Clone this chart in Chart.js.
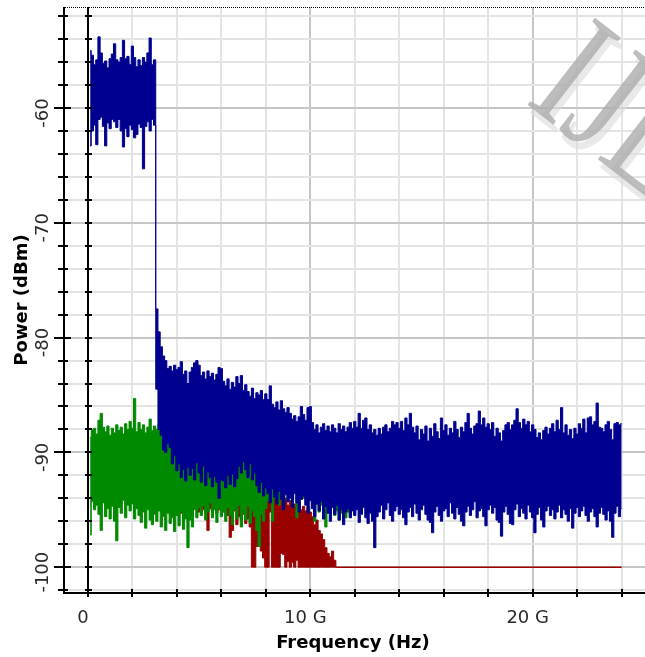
<!DOCTYPE html>
<html>
<head>
<meta charset="utf-8">
<script src="https://cdn.jsdelivr.net/npm/chart.js@4.4.0/dist/chart.umd.min.js"></script>
<style>
  html, body { margin: 0; padding: 0; background: #fff; }
  canvas { display: block; }
</style>
</head>
<body>
<canvas id="spectrum" width="645" height="657"></canvas>
<script>
// sample grid of the spectrum trace: 0.1 GHz bins from 0.1 to 24.0 GHz
const binStart = 0.1, binStep = 0.1, binCount = 240;
const freqGHz = [];
for (let i = 0; i < binCount; i++) freqGHz.push(+(binStart + i * binStep).toFixed(1));

// blue trace, upper / lower edge of the noise band per bin (dBm)
const blueUpper = [
  -55.0,-55.4,-56.2,-55.8,-53.8,-55.2,-56.1,-55.9,-56.5,-55.7,
  -55.3,-54.4,-55.8,-56.0,-55.6,-54.1,-55.7,-55.5,-56.2,-54.6,
  -55.6,-56.4,-55.8,-56.3,-55.6,-56.0,-55.2,-53.9,-56.2,-55.8,
  -77.5,-79.5,-80.8,-81.6,-82.0,-82.7,-82.5,-82.9,-82.4,-82.8,
  -82.6,-82.1,-83.2,-82.9,-84.0,-83.0,-82.6,-82.2,-82.0,-82.4,
  -83.3,-83.0,-83.6,-82.9,-83.4,-83.1,-83.7,-83.2,-82.6,-82.7,
  -83.8,-84.2,-83.6,-84.5,-83.9,-84.3,-83.4,-84.0,-83.3,-84.6,
  -84.1,-84.7,-85.1,-84.4,-85.3,-84.8,-85.0,-84.6,-85.4,-84.9,
  -85.4,-84.2,-85.8,-86.1,-85.6,-86.3,-85.5,-86.2,-86.5,-86.1,
  -86.6,-87.1,-86.8,-87.3,-86.9,-86.0,-86.7,-87.2,-86.1,-86.0,
  -87.4,-88.0,-87.6,-88.3,-87.8,-87.5,-88.1,-87.7,-88.2,-87.6,
  -87.9,-88.3,-87.5,-88.0,-87.7,-88.2,-87.8,-87.4,-87.9,-87.3,
  -87.8,-86.6,-87.9,-87.2,-87.0,-88.0,-87.6,-88.3,-88.0,-88.5,
  -87.9,-88.4,-87.8,-87.6,-88.2,-87.9,-87.3,-87.6,-87.4,-87.9,
  -87.3,-88.1,-87.0,-87.6,-86.6,-87.8,-88.3,-87.7,-88.9,-88.0,
  -88.4,-87.7,-89.0,-87.9,-88.6,-87.5,-88.2,-88.8,-87.0,-88.1,
  -87.6,-88.5,-87.9,-88.3,-87.3,-88.0,-88.7,-87.8,-88.2,-87.4,
  -86.6,-87.9,-88.4,-87.7,-87.5,-86.4,-87.6,-87.0,-87.8,-87.5,
  -88.0,-87.4,-88.6,-87.9,-88.3,-89.0,-88.1,-87.6,-87.4,-88.0,
  -87.6,-87.2,-86.2,-87.4,-87.9,-87.1,-87.6,-87.3,-88.2,-87.6,
  -88.0,-88.7,-88.3,-88.9,-88.1,-87.8,-88.4,-87.9,-87.5,-88.2,
  -87.2,-88.0,-86.1,-88.3,-87.6,-88.5,-88.0,-88.8,-87.9,-88.4,
  -87.5,-87.9,-87.1,-88.3,-87.0,-86.9,-87.6,-87.3,-85.7,-87.8,
  -87.9,-88.2,-87.6,-87.3,-88.0,-88.9,-87.5,-87.4,-87.6,-87.5
];
const blueLower = [
  -63.3,-62.0,-61.5,-63.2,-61.0,-60.8,-61.6,-63.3,-61.3,-61.8,
  -61.0,-61.2,-61.7,-61.0,-62.0,-63.4,-61.8,-62.5,-61.5,-61.9,
  -62.6,-62.3,-61.4,-61.7,-65.3,-61.6,-61.2,-62.0,-61.0,-61.5,
  -84.5,-88.0,-88.5,-89.8,-90.0,-89.2,-89.6,-91.0,-90.3,-91.6,
  -91.0,-92.2,-91.5,-92.5,-91.3,-92.0,-91.4,-92.4,-90.9,-91.8,
  -92.6,-91.2,-92.9,-91.7,-92.2,-93.0,-92.1,-92.6,-94.0,-92.4,
  -92.5,-93.1,-92.0,-92.8,-91.9,-93.0,-92.3,-91.2,-91.8,-90.8,
  -91.5,-92.2,-91.0,-92.4,-91.8,-92.9,-93.5,-92.6,-93.8,-93.1,
  -93.6,-94.4,-93.2,-93.9,-94.5,-93.4,-94.1,-95.0,-93.7,-94.3,
  -94.0,-94.8,-93.6,-94.4,-95.2,-94.1,-93.8,-94.6,-95.3,-94.2,
  -94.9,-95.6,-94.5,-95.1,-94.3,-95.8,-94.7,-95.3,-96.0,-94.8,
  -95.4,-94.6,-95.9,-95.0,-96.3,-95.2,-94.9,-95.7,-95.1,-95.5,
  -95.0,-96.1,-95.4,-94.8,-95.7,-96.2,-95.3,-96.0,-98.3,-95.6,
  -95.2,-94.6,-95.8,-95.0,-94.4,-95.5,-96.0,-95.1,-94.7,-95.4,
  -95.0,-95.7,-96.3,-95.2,-94.8,-95.6,-94.5,-95.3,-95.9,-95.0,
  -94.6,-95.4,-95.9,-96.1,-97.0,-95.2,-94.7,-95.5,-96.0,-95.1,
  -94.9,-95.6,-94.4,-95.3,-95.8,-94.8,-95.4,-96.0,-96.4,-95.2,
  -94.7,-95.5,-95.0,-94.3,-95.7,-95.1,-94.9,-95.6,-96.4,-95.0,
  -94.6,-95.3,-94.8,-95.9,-96.1,-97.3,-95.2,-94.7,-95.4,-96.2,
  -96.3,-95.0,-94.5,-95.6,-94.9,-95.3,-95.8,-94.6,-95.2,-95.7,
  -97.0,-95.4,-94.8,-95.9,-96.5,-95.1,-94.7,-95.5,-95.0,-95.8,
  -95.2,-94.6,-95.7,-95.0,-95.4,-96.0,-94.9,-96.6,-95.3,-94.8,
  -95.6,-95.1,-94.7,-95.5,-96.0,-95.2,-94.9,-95.6,-96.5,-95.3,
  -94.8,-95.4,-95.9,-95.1,-96.0,-97.4,-95.3,-94.7,-95.6,-94.9
];

// green trace, bins 0.1 .. 12.0 GHz (hidden under blue further right)
const greenUpper = [
  -88.7,-88.0,-87.9,-88.4,-87.2,-86.6,-87.8,-88.2,-87.7,-88.5,
  -87.9,-88.3,-87.6,-88.1,-87.8,-88.4,-87.5,-88.0,-87.3,-87.9,
  -85.3,-88.2,-87.4,-88.0,-87.6,-88.3,-87.8,-87.1,-88.1,-87.7,
  -88.0,-87.5,-88.3,-87.8,-88.6,-88.1,-88.9,-88.4,-88.2,-88.7,
  -88.6,-89.0,-88.3,-88.8,-89.2,-88.5,-89.1,-88.7,-89.3,-88.9,
  -89.0,-89.4,-88.8,-89.2,-89.6,-89.1,-88.9,-89.5,-89.2,-89.7,
  -89.3,-89.8,-89.5,-90.0,-89.4,-89.9,-89.6,-90.2,-90.5,-90.3,
  -90.2,-90.6,-90.0,-90.8,-90.4,-91.0,-90.7,-90.5,-91.2,-90.9,
  -90.8,-91.3,-91.0,-91.5,-91.2,-91.7,-91.4,-91.1,-91.8,-91.5,
  -91.6,-92.0,-91.7,-92.2,-91.9,-92.4,-92.1,-91.8,-92.3,-92.0,
  -92.2,-92.6,-92.3,-92.8,-92.5,-92.9,-92.6,-93.0,-92.7,-93.1,
  -92.9,-93.2,-93.0,-93.4,-93.1,-93.3,-93.0,-93.5,-93.2,-93.4
];
const greenLower = [
  -97.2,-94.3,-95.0,-94.6,-95.4,-96.8,-94.4,-95.6,-94.9,-95.8,
  -94.7,-96.0,-97.7,-94.8,-95.3,-94.2,-95.7,-94.6,-95.1,-94.5,
  -95.8,-94.9,-95.5,-96.1,-95.2,-96.6,-95.0,-95.9,-96.3,-95.4,
  -96.0,-95.1,-96.5,-95.6,-96.8,-95.3,-96.2,-95.7,-96.9,-95.5,
  -96.4,-95.2,-96.7,-95.8,-98.3,-95.9,-96.5,-95.0,-95.7,-94.8,
  -95.5,-94.6,-95.9,-95.2,-94.4,-95.7,-95.0,-96.1,-94.9,-95.6,
  -95.2,-96.0,-94.8,-95.5,-96.3,-95.0,-95.8,-94.6,-96.5,-95.3,
  -95.9,-94.7,-96.2,-95.1,-95.6,-96.8,-98.2,-95.4,-96.0,-94.9,
  -94.2,-93.6,-96.0,-94.0,-93.5,-94.6,-93.8,-94.3,-93.4,-94.1,
  -93.8,-94.2,-93.5,-95.7,-94.4,-93.7,-94.0,-93.6,-94.3,-93.9,
  -94.8,-96.0,-94.5,-95.2,-94.6,-95.8,-96.5,-94.9,-95.3,-94.7,
  -95.5,-95.1,-95.9,-95.3,-95.0,-95.7,-95.2,-95.6,-95.0,-95.4
];

// red trace, bins 3.2 .. 11.2 GHz, then flat at the floor
const redFirstBin = 31;
const redUpper = [
  -84.2,-85.5,-87.8,-88.6,-89.5,-90.1,-90.4,-90.8,-91.2,
  -91.5,-91.3,-91.8,-91.6,-92.0,-91.7,-92.1,-91.9,-92.3,-92.0,
  -92.2,-92.5,-92.1,-92.8,-92.4,-92.6,-92.9,-92.5,-92.7,-93.0,
  -92.8,-93.1,-92.9,-93.3,-93.0,-93.2,-92.9,-93.4,-94.2,-94.0,
  -93.6,-93.2,-92.8,-92.2,-92.4,-92.3,-92.7,-93.0,-92.5,-93.2,
  -92.9,-93.6,-93.0,-93.5,-93.8,-94.1,-93.9,-94.3,-94.0,-94.6,
  -94.2,-94.8,-94.5,-94.9,-94.4,-95.0,-94.7,-95.1,-94.8,-95.2,
  -95.6,-96.3,-95.9,-96.8,-97.1,-97.6,-98.3,-98.8,-99.1,-98.6,
  -99.4,-100
];
const redLower = [
  -86.0,-88.2,-90.5,-92.0,-93.0,-93.8,-94.2,-94.6,-94.8,
  -94.8,-95.3,-94.6,-95.0,-95.4,-94.7,-95.1,-94.5,-94.9,-95.2,
  -94.6,-95.0,-94.4,-96.8,-94.9,-95.1,-94.7,-95.3,-95.0,-94.6,
  -95.2,-94.8,-95.5,-97.4,-96.8,-95.1,-96.3,-95.6,-95.9,-95.4,
  -96.2,-95.8,-96.5,-100,-100,-98.2,-97.9,-98.6,-99.2,-100,
  -100,-95.2,-100,-100,-100,-100,-98.8,-98.9,-100,-99.5,
  -100,-99.6,-100,-99.4,-100,-100,-100,-100,-100,-100,
  -100,-100,-100,-100,-100,-100,-100,-100,-100,-100,
  -100,-100
];
const redFloorFreq = [11.2, 24.0];
const redFloorLevel = -100;

// axes
const xTickValues = [0, 2, 4, 6, 8, 10, 12, 14, 16, 18, 20, 22, 24];
const yTickValues = [-52, -54, -56, -58, -60, -62, -64, -66, -68, -70, -72, -74, -76, -78,
  -80, -82, -84, -86, -88, -90, -92, -94, -96, -98, -100, -102];
const xLabelValues = [0, 10, 20];
const xLabelTexts = ['0', '10 G', '20 G'];
const yLabelValues = [-60, -70, -80, -90, -100];
const yLabelTexts = ['-60', '-70', '-80', '-90', '-100'];

const BLUE = '#000090';
const GREEN = '#008a00';
const RED = '#990000';

const toPoints = (first, vals) => vals.map((v, i) => ({ x: freqGHz[first + i], y: v }));

function band(color, lower, upper) {
    return [
        { data: lower, borderColor: color, borderWidth: 1, fill: false, stepped: 'middle' },
        { data: upper, borderColor: color, backgroundColor: color, borderWidth: 1, fill: '-1', stepped: 'middle' }
    ];
}

// draws the axes lines, ticks, labels and the watermark like the original tool
const axesPlugin = {
    id: 'axesPlugin',
    afterDraw(chart) {
        const { ctx, chartArea: a, scales: { x, y } } = chart;
        ctx.save();

        // watermark (condensed serif, tilted)
        ctx.save();
        ctx.translate(524, 102);
        ctx.rotate(0.66);
        ctx.scale(0.74, 1);
        ctx.font = '168px "Liberation Serif"';
        ctx.fillStyle = 'rgba(218,218,218,0.6)';
        ctx.fillText('IJERT', 9, 5);
        ctx.fillStyle = 'rgba(172,172,172,0.8)';
        ctx.fillText('IJERT', 0, 0);
        ctx.restore();

        // dotted top border
        ctx.strokeStyle = '#000';
        ctx.lineWidth = 1;
        ctx.setLineDash([1, 1]);
        ctx.beginPath();
        ctx.moveTo(a.left, a.top + 0.5);
        ctx.lineTo(a.right, a.top + 0.5);
        ctx.stroke();
        ctx.setLineDash([]);

        ctx.lineWidth = 2;
        const x0 = Math.round(x.getPixelForValue(0));
        // left axis + zero line
        ctx.beginPath();
        ctx.moveTo(a.left + 1, a.top);
        ctx.lineTo(a.left + 1, a.bottom);
        ctx.moveTo(x0, a.top);
        ctx.lineTo(x0, a.bottom);
        ctx.moveTo(a.left, a.bottom);
        ctx.lineTo(a.right, a.bottom);
        ctx.stroke();

        // y ticks on both vertical lines
        ctx.beginPath();
        yTickValues.forEach(v => {
            const py = Math.round(y.getPixelForValue(v));
            const major = v % 10 === 0;
            ctx.moveTo(a.left - (major ? 9 : 5), py);
            ctx.lineTo(a.left + (major ? 8 : 5), py);
            ctx.moveTo(x0 - 3, py);
            ctx.lineTo(x0 + 4, py);
        });
        // x ticks across the bottom axis
        xTickValues.forEach(v => {
            const px = Math.round(x.getPixelForValue(v));
            ctx.moveTo(px, a.bottom - 4);
            ctx.lineTo(px, a.bottom + 4);
        });
        ctx.stroke();

        // tick labels
        ctx.fillStyle = '#2a2a2a';
        ctx.font = '18px "DejaVu Sans"';
        ctx.textAlign = 'center';
        ctx.textBaseline = 'middle';
        xLabelValues.forEach((v, i) => {
            ctx.fillText(xLabelTexts[i], x.getPixelForValue(v) - 5, 618);
        });
        yLabelValues.forEach((v, i) => {
            ctx.save();
            ctx.translate(43, y.getPixelForValue(v) + 5);
            ctx.rotate(-Math.PI / 2);
            ctx.fillText(yLabelTexts[i], 0, 0);
            ctx.restore();
        });

        // axis titles
        ctx.fillStyle = '#000';
        ctx.font = 'bold 18px "DejaVu Sans"';
        ctx.textBaseline = 'alphabetic';
        ctx.fillText('Frequency (Hz)', 353, 648);
        ctx.save();
        ctx.translate(27, 300);
        ctx.rotate(-Math.PI / 2);
        ctx.fillText('Power (dBm)', 0, 0);
        ctx.restore();

        ctx.restore();
    }
};

const gridColor = c => (c.tick && c.tick.value % 10 === 0) ? '#c6c6c6' : '#e4e4e4';

const ctx = document.getElementById('spectrum').getContext('2d');
new Chart(ctx, {
    type: 'line',
    data: {
        datasets: [
            ...band(BLUE, toPoints(0, blueLower), toPoints(0, blueUpper)),
            ...band(GREEN, toPoints(0, greenLower), toPoints(0, greenUpper)),
            ...band(RED, toPoints(redFirstBin, redLower), toPoints(redFirstBin, redUpper)),
            {
                data: redFloorFreq.map(f => ({ x: f, y: redFloorLevel })),
                borderColor: RED, borderWidth: 1.5, fill: false
            }
        ]
    },
    options: {
        responsive: false,
        animation: false,
        devicePixelRatio: 1,
        layout: { padding: { top: 7, left: 0, right: 0, bottom: 0 } },
        plugins: { legend: { display: false }, tooltip: { enabled: false } },
        elements: { point: { radius: 0 }, line: { tension: 0 } },
        scales: {
            x: {
                type: 'linear',
                min: -1.12,
                max: 25.05,
                afterBuildTicks: s => { s.ticks = xTickValues.map(v => ({ value: v })); },
                afterFit: s => { s.height = 64; },
                ticks: { display: false },
                grid: { color: gridColor, lineWidth: 2, drawTicks: false },
                border: { display: false }
            },
            y: {
                type: 'linear',
                min: -102.25,
                max: -51.2,
                afterBuildTicks: s => { s.ticks = yTickValues.map(v => ({ value: v })); },
                afterFit: s => { s.width = 63; },
                ticks: { display: false },
                grid: { color: gridColor, lineWidth: 2, drawTicks: false },
                border: { display: false }
            }
        }
    },
    plugins: [axesPlugin]
});
</script>
</body>
</html>
